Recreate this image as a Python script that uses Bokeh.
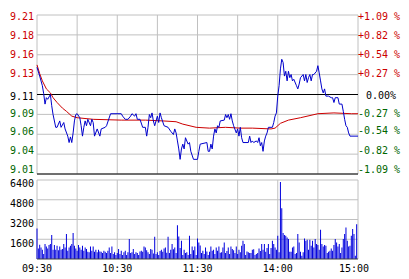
from bokeh.plotting import figure
from bokeh.models import Range1d, ColumnDataSource
from bokeh.core.properties import value
from bokeh.embed import file_html
from bokeh.resources import INLINE

# ---------------- data ----------------
prev_close = 9.11
pct_step = 0.2725  # percent per grid step

price_labels = ["9.21", "9.18", "9.16", "9.13", "9.11", "9.09", "9.06", "9.04", "9.01"]
pct_labels = ["+1.09 %", "+0.82 %", "+0.54 %", "+0.27 %", "0.00%",
              "-0.27 %", "-0.54 %", "-0.82 %", "-1.09 %"]
vol_ticks = [6400, 4800, 3200, 1600]
vol_labels = ["6400", "4800", "3200", "1600"]
time_ticks = [0, 60, 120, 180, 240]
time_labels = ["09:30", "10:30", "11:30", "14:00", "15:00"]

price_min = [0, 2, 4, 5, 6, 7, 8, 10, 11, 12, 14, 15, 17, 18, 20, 21, 23, 24, 25, 26,
             27, 28, 29, 30, 32, 33, 34, 35, 36, 37, 38, 40, 41, 42, 43, 45, 47, 48, 51, 52,
             55, 63, 64, 66, 68, 70, 71, 73, 74, 75, 77, 79, 81, 82, 83, 84, 85, 86, 87, 88,
             90, 91, 92, 93, 95, 98, 100, 102, 103, 104, 105, 106, 107, 108, 109, 110, 111, 113, 114, 115,
             117, 120, 121, 122, 127, 128, 129, 130, 131, 132, 133, 134, 135, 136, 137, 140, 141, 142, 143, 144,
             145, 146, 147, 149, 150, 151, 152, 153, 154, 158, 159, 160, 161, 162, 164, 165, 166, 167, 168, 169,
             170, 171, 172, 173, 176, 177, 178, 179, 180, 181, 182, 183, 184, 185, 186, 187, 188, 189, 190, 191,
             192, 194, 195, 196, 197, 199, 200, 201, 202, 203, 204, 205, 206, 207, 209, 210, 211, 212, 213, 214,
             215, 216, 218, 220, 221, 222, 223, 225, 226, 228, 229, 230, 231, 232, 233, 234, 240]
price = [9.144, 9.133, 9.121, 9.111, 9.098, 9.106, 9.104, 9.110, 9.096, 9.085, 9.069, 9.069, 9.077, 9.069, 9.075, 9.067, 9.058, 9.050, 9.057, 9.050,
         9.062, 9.077, 9.085, 9.086, 9.081, 9.071, 9.058, 9.069, 9.077, 9.071, 9.079, 9.071, 9.079, 9.075, 9.058, 9.067, 9.058, 9.067, 9.069, 9.071,
         9.086, 9.086, 9.083, 9.079, 9.079, 9.083, 9.086, 9.083, 9.086, 9.079, 9.079, 9.069, 9.069, 9.058, 9.069, 9.085, 9.081, 9.087, 9.077, 9.071,
         9.083, 9.075, 9.087, 9.081, 9.071, 9.069, 9.064, 9.060, 9.067, 9.062, 9.052, 9.042, 9.029, 9.042, 9.048, 9.042, 9.056, 9.048, 9.050, 9.039,
         9.029, 9.029, 9.039, 9.048, 9.050, 9.039, 9.039, 9.048, 9.042, 9.058, 9.067, 9.062, 9.071, 9.069, 9.077, 9.078, 9.085, 9.081, 9.085, 9.079,
         9.086, 9.077, 9.071, 9.062, 9.067, 9.058, 9.069, 9.056, 9.050, 9.050, 9.058, 9.050, 9.052, 9.050, 9.052, 9.050, 9.056, 9.046, 9.050, 9.039,
         9.052, 9.058, 9.062, 9.069, 9.069, 9.075, 9.083, 9.087, 9.108, 9.121, 9.142, 9.154, 9.150, 9.133, 9.139, 9.127, 9.139, 9.131, 9.135, 9.127,
         9.129, 9.121, 9.117, 9.123, 9.131, 9.135, 9.127, 9.135, 9.125, 9.131, 9.135, 9.127, 9.135, 9.135, 9.139, 9.146, 9.137, 9.127, 9.117, 9.112,
         9.117, 9.108, 9.108, 9.106, 9.106, 9.100, 9.106, 9.106, 9.098, 9.098, 9.089, 9.079, 9.071, 9.069, 9.062, 9.058, 9.058]

avg_min = [0, 2, 4, 7, 10, 12, 15, 19, 22, 26, 30, 42, 63, 81, 94, 104, 109, 119, 129, 141,
           152, 161, 175, 178, 182, 188, 197, 210, 222, 235, 240]
avg_price = [9.147, 9.136, 9.127, 9.117, 9.112, 9.106, 9.100, 9.093, 9.089, 9.083, 9.081, 9.079, 9.078, 9.078, 9.077, 9.076, 9.073, 9.069, 9.068, 9.069,
             9.068, 9.068, 9.067, 9.068, 9.074, 9.078, 9.081, 9.086, 9.087, 9.086, 9.086]

# one value per minute, 09:30 onwards
volume = [2475, 860, 1157, 940, 753, 403, 1210, 1022, 860, 1130, 1210, 1937, 753, 1130, 753, 1076, 700, 1022, 753, 807,
          1210, 940, 2017, 672, 940, 1076, 1210, 2098, 1076, 860, 672, 1130, 940, 753, 1076, 672, 940, 807, 592, 538,
          1022, 672, 1022, 592, 753, 538, 753, 600, 592, 484, 672, 592, 484, 672, 940, 484, 1022, 403, 538, 323,
          484, 807, 403, 672, 323, 538, 672, 323, 538, 1614, 484, 538, 807, 403, 538,
          484, 323, 600, 672, 592, 1022, 940, 700, 538, 403, 807, 753, 450, 1802, 403, 538, 323, 650, 753, 592,
          860, 940, 500, 1802, 484, 753, 1210, 800, 940, 484, 2744, 1829, 900, 1480, 323, 753, 484, 550, 323, 1883,
          403, 1022, 700, 1022, 323, 1668, 1345, 1100, 484, 672, 403, 940, 600, 323, 592, 1022, 672, 750, 403, 940,
          672, 1022, 500, 538, 940, 1345, 484, 650, 940, 403, 1022, 807, 700, 484, 1022, 403, 753, 550, 1076, 1480,
          1210, 323, 600, 538, 484, 484, 753, 800, 323, 403, 484, 860, 650, 1210, 753, 1210, 592, 900, 1210, 403,
          900,
          1480, 1210, 940, 753, 1883, 538, 6240, 4116, 2098, 1937, 1883, 1749, 1614, 592, 592, 940, 1022, 403, 484, 2017,
          1345, 592, 269, 538, 1668, 1480, 1560, 753, 1560, 1076, 1480, 940, 1614, 1210, 1130, 753, 2367, 1210, 1022, 1130,
          1076, 484, 592, 672, 860, 672, 1130, 1614, 1345, 1022, 1210, 484, 940, 1614, 2017, 2555, 1480, 1022, 1076, 1883,
          2421, 2017, 269, 2824]
vol_min = list(range(len(volume)))

# ---------------- layout (screen pixels) ----------------
W, H = 409, 279
X0, X1 = 36.5, 357.5          # minute 0 / minute 240
PT, PB = 14.5, 173.5          # price panel top / bottom
VT, VB = 179.5, 258.5         # volume panel top / bottom

RED = "#cc0000"
GREEN = "#006600"
BLUE = "#0000cc"
GRID = "#c0c0c0"
FONT = "DejaVu Sans Mono"
FS = "10px"

lo = prev_close * (1 - 4 * pct_step / 100)
hi = prev_close * (1 + 4 * pct_step / 100)
ks = [4, 3, 2, 1, 0, -1, -2, -3, -4]
grid_prices = [prev_close * (1 + k * pct_step / 100) for k in ks]

ppm = (X1 - X0) / 240.0
x_start = -X0 / ppm
x_end = 240 + (W - X1) / ppm
pp = (hi - lo) / (PB - PT)
y_start = lo - (H - PB) * pp
y_end = hi + PT * pp
vp = 6400 / (VB - VT)
v_start = -(H - VB) * vp
v_end = 6400 + VT * vp

p = figure(width=W, height=H, x_range=Range1d(x_start, x_end), y_range=Range1d(y_start, y_end),
           output_backend="svg", toolbar_location=None,
           x_axis_location=None, y_axis_location=None,
           min_border=0, min_border_left=0, min_border_right=0, min_border_top=0, min_border_bottom=0,
           background_fill_color="white", border_fill_color="white")
p.extra_y_ranges = {"vol": Range1d(v_start, v_end)}
p.outline_line_color = None
p.grid.visible = False

vlines = list(range(0, 241, 30))
# price panel grid
p.segment(x0=vlines, y0=[lo] * len(vlines), x1=vlines, y1=[hi] * len(vlines),
          line_color=GRID, line_width=1)
p.segment(x0=[0] * len(grid_prices), y0=grid_prices, x1=[240] * len(grid_prices), y1=grid_prices,
          line_color=GRID, line_width=1)
p.segment(x0=[0, 0], y0=[prev_close, lo], x1=[240, 240], y1=[prev_close, lo],
          line_color="black", line_width=1)
# volume panel grid
p.segment(x0=vlines, y0=[0] * len(vlines), x1=vlines, y1=[6400] * len(vlines),
          line_color=GRID, line_width=1, y_range_name="vol")
p.segment(x0=[0] * len(vol_ticks), y0=vol_ticks, x1=[240] * len(vol_ticks), y1=vol_ticks,
          line_color=GRID, line_width=1, y_range_name="vol")

# data
p.line(avg_min, avg_price, line_color=RED, line_width=1)
p.line(price_min, price, line_color=BLUE, line_width=1)
p.vbar(x=vol_min, top=volume, bottom=0, width=0.75, fill_color="#0000dd", line_color=None,
       y_range_name="vol")
p.segment(x0=[0], y0=[0], x1=[240], y1=[0], line_color="#404040", line_width=1, y_range_name="vol")

# texts
cols = [RED if k > 0 else ("black" if k == 0 else GREEN) for k in ks]
dys = [1.0, 0.5, -0.6, -1.4, 1.2, -1.2, -3.3, -4.1, -4.8]
left_src = ColumnDataSource(dict(x=[0] * 9, y=grid_prices, t=price_labels, c=cols, dy=dys))
right_src = ColumnDataSource(dict(x=[240] * 9, y=grid_prices, t=pct_labels, c=cols, dy=dys,
                                  dx=[8 if k == 0 else 0 for k in ks]))
p.text(x="x", y="y", text="t", text_color="c", y_offset="dy", x_offset=-3, source=left_src,
       text_align="right", text_baseline="middle", text_font=value(FONT), text_font_size=value(FS))
p.text(x="x", y="y", text="t", text_color="c", y_offset="dy", x_offset="dx", source=right_src,
       text_align="left", text_baseline="middle", text_font=value(FONT), text_font_size=value(FS))
p.text(x=[0] * 4, y=vol_ticks, text=vol_labels, x_offset=-3, y_offset=3.3, y_range_name="vol",
       text_color="black", text_align="right", text_baseline="middle",
       text_font=value(FONT), text_font_size=value(FS))
p.text(x=time_ticks, y=[0] * 5, text=time_labels, x_offset=[0, 0, 0, 0, -4], y_offset=9.5,
       y_range_name="vol", text_color="black", text_align="center", text_baseline="middle",
       text_font=value(FONT), text_font_size=value(FS))

open("out.html", "w").write(file_html(p, INLINE))
